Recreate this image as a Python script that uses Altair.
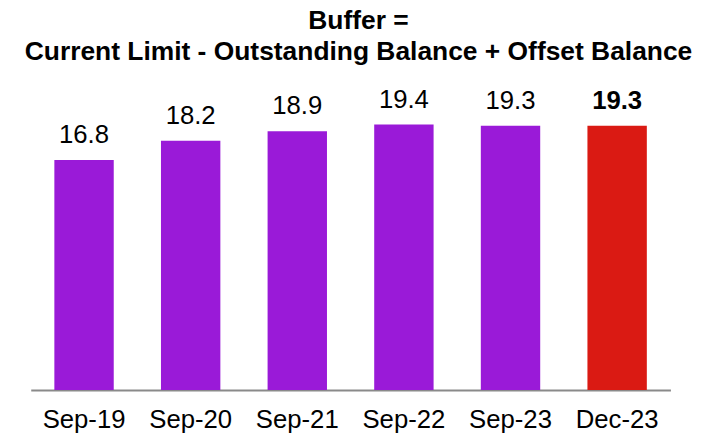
import altair as alt
import pandas as pd

periods = ["Sep-19", "Sep-20", "Sep-21", "Sep-22", "Sep-23", "Dec-23"]
buffer_values = [16.8, 18.2, 18.9, 19.4, 19.3, 19.3]
highlight = [False, False, False, False, False, True]
labels = ["16.8", "18.2", "18.9", "19.4", "19.3", "19.3"]

df = pd.DataFrame({"period": periods, "value": buffer_values,
                   "hl": highlight, "label": labels})

x = alt.X("period:N", sort=periods, title=None,
          scale=alt.Scale(paddingInner=0.443, paddingOuter=0.2215),
          axis=alt.Axis(labelAngle=0, labelFontSize=26, labelFont="Liberation Sans",
                        labelColor="#000000", ticks=False, labelPadding=17,
                        domainColor="#8a8a8a", domainWidth=2))
y = alt.Y("value:Q", scale=alt.Scale(domain=[0, 20]), axis=None)

bars = alt.Chart(df).mark_bar().encode(
    x=x, y=y,
    color=alt.condition("datum.hl", alt.value("#DA1A13"), alt.value("#9A1AD8")),
)

text_normal = alt.Chart(df).transform_filter("!datum.hl").mark_text(
    fontSize=26, font="Liberation Sans", baseline="alphabetic", dy=-17, color="#000000"
).encode(x=alt.X("period:N", sort=periods), y="value:Q", text="label:N")

text_bold = alt.Chart(df).transform_filter("datum.hl").mark_text(
    fontSize=26, font="Liberation Sans", fontWeight="bold", baseline="alphabetic",
    dy=-17, color="#000000"
).encode(x=alt.X("period:N", sort=periods), y="value:Q", text="label:N")

chart = alt.layer(bars, text_normal, text_bold).properties(
    width=647, height=277,
    title=alt.TitleParams(["Buffer =", "Current Limit - Outstanding Balance + Offset Balance"],
                          fontSize=26.7, font="Liberation Sans", fontWeight="bold",
                          color="#000000", anchor="middle", lineHeight=32, offset=21,
                          dx=8),
    padding={"left": 23, "top": 107, "right": 39, "bottom": 46},
    autosize="none",
).configure_view(stroke=None)

chart.save("out.html", embed_options={"renderer": "svg", "actions": False})
